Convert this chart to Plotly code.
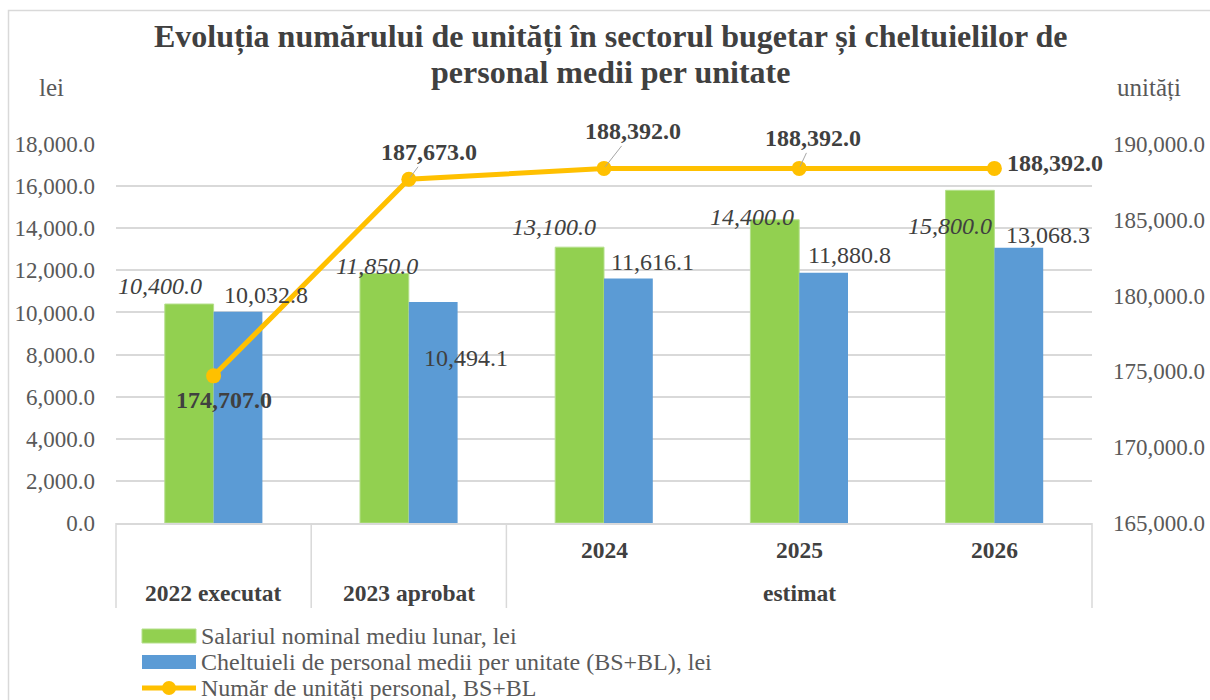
import plotly.graph_objects as go

# ---------------- data ----------------
years = ["2022", "2023", "2024", "2025", "2026"]
inner_labels = ["", "", "2024", "2025", "2026"]
groups = ["2022 executat", "2023 aprobat", "estimat"]
group_span = [(0, 0), (1, 1), (2, 4)]          # category index range per group

salariu = [10400.0, 11850.0, 13100.0, 14400.0, 15800.0]
cheltuieli = [10032.8, 10494.1, 11616.1, 11880.8, 13068.3]
unitati = [174707.0, 187673.0, 188392.0, 188392.0, 188392.0]

names = [
    "Salariul nominal mediu lunar, lei",
    "Cheltuieli de personal medii per unitate (BS+BL), lei",
    "Număr de unități personal, BS+BL",
]
title_lines = ["Evoluția numărului de unități în sectorul bugetar și cheltuielilor de",
               "personal medii per unitate"]

# ---------------- style ----------------
GREEN = "#92D050"
BLUE = "#5B9BD5"
GOLD = "#FFC000"
GRID = "#D9D9D9"
TXT = "#404040"
TICK = "#595959"
FONT = "Liberation Serif"

# label pixel offsets (dx right, dy up) relative to bar top / point
green_off = [(-29, 18), (-7, 7), (-26, 20), (-23, 3), (-20, -36)]
blue_off = [(28, 17), (33, -56), (24, 16), (26, 18), (29, 13)]
line_off = [(10, -24, False), (20, 27, True), (29, 37, True), (14, 30, True), (61, 5, False)]

W, H = 1210, 700
L, R, T, B = 116, 1092, 144, 523
pw, ph = R - L, B - T


def px2x(p):            # page x pixel -> paper
    return (p - L) / pw


def py2y(p):            # page y pixel -> paper
    return (B - p) / ph


x = list(range(len(years)))
n = len(years)

fig = go.Figure()
fig.add_trace(go.Bar(x=x, y=salariu, name=names[0],
                     marker=dict(color=GREEN, line=dict(color="#B5DF8C", width=1)), showlegend=False))
fig.add_trace(go.Bar(x=x, y=cheltuieli, name=names[1],
                     marker=dict(color=BLUE, line=dict(width=0)), showlegend=False))
fig.add_trace(go.Scatter(x=x, y=unitati, name=names[2], yaxis="y2", mode="lines+markers",
                         line=dict(color=GOLD, width=5),
                         marker=dict(color=GOLD, size=15), showlegend=False))

LBL = 24
ann = []
# bar labels
for i in range(n):
    dx, dy = green_off[i]
    ann.append(dict(x=i - 0.125, y=salariu[i], xref="x", yref="y", text=f"<i>{salariu[i]:,.1f}</i>",
                    showarrow=False, xshift=dx, yshift=dy,
                    font=dict(family=FONT, size=LBL, color=TXT), xanchor="center", yanchor="middle"))
    dx, dy = blue_off[i]
    ann.append(dict(x=i + 0.125, y=cheltuieli[i], xref="x", yref="y", text=f"{cheltuieli[i]:,.1f}",
                    showarrow=False, xshift=dx, yshift=dy,
                    font=dict(family=FONT, size=LBL, color=TXT), xanchor="center", yanchor="middle"))
# line labels
for i in range(n):
    dx, dy, leader = line_off[i]
    txt = f"<b>{unitati[i]:,.1f}</b>"
    if leader:
        ann.append(dict(x=i, y=unitati[i], xref="x", yref="y2", text=txt, showarrow=True,
                        ax=dx, ay=-dy, axref="pixel", ayref="pixel", arrowhead=0, arrowwidth=1,
                        arrowcolor="#A6A6A6", standoff=2,
                        font=dict(family=FONT, size=LBL, color=TXT)))
    else:
        ann.append(dict(x=i, y=unitati[i], xref="x", yref="y2", text=txt, showarrow=False,
                        xshift=dx, yshift=dy,
                        font=dict(family=FONT, size=LBL, color=TXT), xanchor="center", yanchor="middle"))

# category table labels
for i in range(n):
    if inner_labels[i]:
        ann.append(dict(x=i, y=py2y(550), xref="x", yref="paper", text=f"<b>{inner_labels[i]}</b>",
                        showarrow=False, font=dict(family=FONT, size=23.5, color=TXT),
                        xanchor="center", yanchor="middle"))
for g, (a, b) in zip(groups, group_span):
    ann.append(dict(x=(a + b) / 2, y=py2y(593), xref="x", yref="paper", text=f"<b>{g}</b>",
                    showarrow=False, font=dict(family=FONT, size=23.5, color=TXT),
                    xanchor="center", yanchor="middle"))

# title lines
for t, yy in zip(title_lines, [37, 72]):
    ann.append(dict(x=px2x(610.5), y=py2y(yy), xref="paper", yref="paper", text=f"<b>{t}</b>",
                    showarrow=False, font=dict(family=FONT, size=32, color=TXT),
                    xanchor="center", yanchor="middle"))

# unit labels
ann.append(dict(x=px2x(51), y=py2y(88), xref="paper", yref="paper", text="lei", showarrow=False,
                font=dict(family=FONT, size=25, color=TICK), xanchor="center", yanchor="middle"))
ann.append(dict(x=px2x(1149), y=py2y(88), xref="paper", yref="paper", text="unități", showarrow=False,
                font=dict(family=FONT, size=25, color=TICK), xanchor="center", yanchor="middle"))

# legend texts
leg_y = [636, 662, 688]
for nm, yy in zip(names, leg_y):
    ann.append(dict(x=px2x(199), y=py2y(yy), xref="paper", yref="paper", text=nm, showarrow=False,
                    font=dict(family=FONT, size=24, color=TICK), xanchor="left", yanchor="middle"))

shapes = []
# outer border (top & left visible)
shapes.append(dict(type="rect", xref="paper", yref="paper", x0=px2x(8.5), x1=px2x(1240),
                   y0=py2y(740), y1=py2y(10.5), line=dict(color=GRID, width=1.5)))
# table vertical lines at group boundaries
cat_w = pw / n
bounds = [group_span[0][0]] + [b + 1 for (_, b) in group_span]
for bnd in bounds:
    xp = (bnd * cat_w) / pw
    shapes.append(dict(type="line", xref="paper", yref="paper", x0=xp, x1=xp, y0=0, y1=py2y(608),
                       line=dict(color=GRID, width=1.5)))
# legend symbols
shapes.append(dict(type="rect", xref="paper", yref="paper", x0=px2x(142), x1=px2x(196),
                   y0=py2y(643), y1=py2y(629), fillcolor=GREEN, line=dict(color="#B5DF8C", width=1)))
shapes.append(dict(type="rect", xref="paper", yref="paper", x0=px2x(142), x1=px2x(196),
                   y0=py2y(669), y1=py2y(655), fillcolor=BLUE, line=dict(width=0)))
shapes.append(dict(type="line", xref="paper", yref="paper", x0=px2x(142), x1=px2x(196),
                   y0=py2y(688), y1=py2y(688), line=dict(color=GOLD, width=5)))
shapes.append(dict(type="circle", xref="paper", yref="paper", x0=px2x(162), x1=px2x(176),
                   y0=py2y(695), y1=py2y(681), fillcolor=GOLD, line=dict(width=0)))

fig.update_layout(
    width=W, height=H,
    margin=dict(l=L, r=W - R, t=T, b=H - B, pad=0, autoexpand=False),
    paper_bgcolor="white", plot_bgcolor="white",
    barmode="group", bargap=0.5, bargroupgap=0,
    xaxis=dict(range=[-0.5, n - 0.5], showticklabels=False, showgrid=False, zeroline=False,
               showline=True, linecolor=GRID, linewidth=1.5, fixedrange=True, automargin=False),
    yaxis=dict(range=[0, 18000], dtick=2000, tick0=0, tickformat=",.1f", showgrid=True,
               gridcolor=GRID, gridwidth=1.5, zeroline=False, ticks="", ticklabelstandoff=20,
               automargin=False, tickfont=dict(family=FONT, size=23, color=TICK)),
    yaxis2=dict(range=[165000, 190000], dtick=5000, tick0=165000, tickformat=",.1f", overlaying="y",
                side="right", showgrid=False, zeroline=False, ticks="", ticklabelstandoff=20,
                automargin=False, tickfont=dict(family=FONT, size=23, color=TICK)),
    annotations=ann, shapes=shapes, showlegend=False,
)

fig.write_html(
    "out.html",
    config={"displayModeBar": False},
    post_script="document.body.style.margin='0';document.body.style.overflow='hidden';",
)
